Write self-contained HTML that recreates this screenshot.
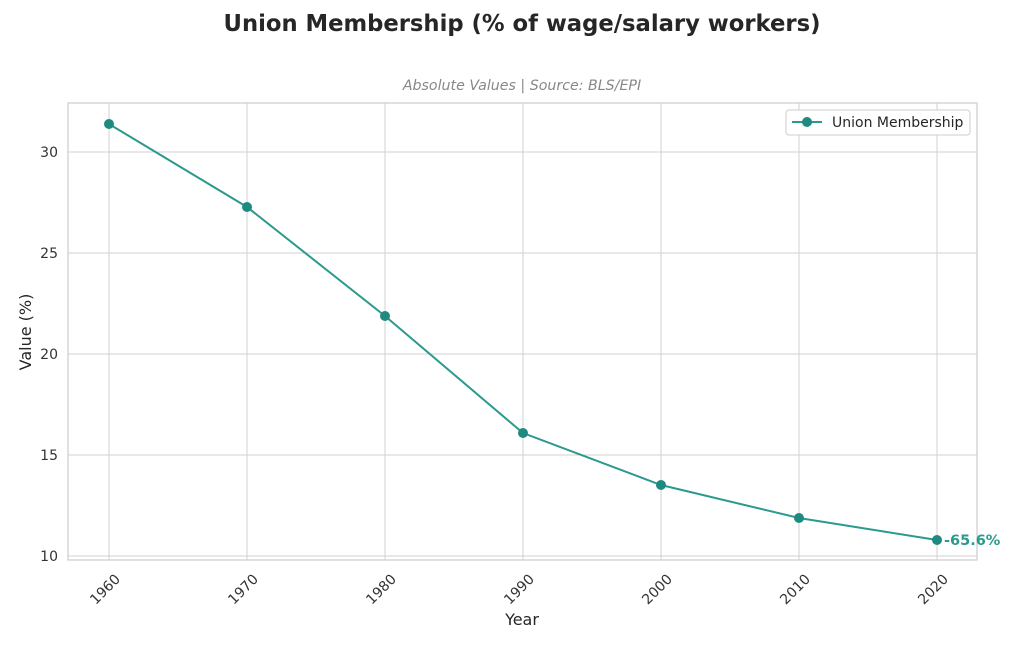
<!DOCTYPE html>
<html><head><meta charset="utf-8"><style>body{margin:0;background:#fff}</style></head>
<body>
<svg width="1024" height="666" xmlns="http://www.w3.org/2000/svg" font-family="DejaVu Sans, sans-serif">
<rect width="1024" height="666" fill="#fff"/>
<text x="522" y="31" text-anchor="middle" font-size="22.7" font-weight="bold" fill="#262626">Union Membership (% of wage/salary workers)</text>
<text x="522" y="90" text-anchor="middle" font-size="14.2" font-style="italic" fill="#888">Absolute Values | Source: BLS/EPI</text>
<g stroke="#d0d0d0" stroke-width="1">
<line x1="68" x2="977" y1="152" y2="152"/><line x1="68" x2="977" y1="253" y2="253"/><line x1="68" x2="977" y1="354" y2="354"/><line x1="68" x2="977" y1="455" y2="455"/><line x1="68" x2="977" y1="556" y2="556"/>
<line x1="109" x2="109" y1="103" y2="560"/><line x1="247" x2="247" y1="103" y2="560"/><line x1="385" x2="385" y1="103" y2="560"/><line x1="523" x2="523" y1="103" y2="560"/><line x1="661" x2="661" y1="103" y2="560"/><line x1="799" x2="799" y1="103" y2="560"/><line x1="937" x2="937" y1="103" y2="560"/>
</g>
<rect x="68" y="103" width="909" height="457" fill="none" stroke="#ccc" stroke-width="1.2"/>
<g font-size="14" fill="#333" text-anchor="end">
<text x="58" y="157">30</text><text x="58" y="258">25</text><text x="58" y="359">20</text><text x="58" y="460">15</text><text x="58" y="561">10</text>
</g>
<g font-size="14" fill="#333" text-anchor="end">
<text transform="translate(121,580) rotate(-45)">1960</text>
<text transform="translate(259,580) rotate(-45)">1970</text>
<text transform="translate(397,580) rotate(-45)">1980</text>
<text transform="translate(535,580) rotate(-45)">1990</text>
<text transform="translate(673,580) rotate(-45)">2000</text>
<text transform="translate(811,580) rotate(-45)">2010</text>
<text transform="translate(949,580) rotate(-45)">2020</text>
</g>
<text x="522" y="625" text-anchor="middle" font-size="16" fill="#262626">Year</text>
<text transform="translate(31,332) rotate(-90)" text-anchor="middle" font-size="16" fill="#262626">Value (%)</text>
<polyline fill="none" stroke="#2a9a8d" stroke-width="2" points="109,124 247,207 385,316 523,433 661,485 799,518 937,540"/>
<g fill="#1f8a80">
<circle cx="109" cy="124" r="5"/><circle cx="247" cy="207" r="5"/><circle cx="385" cy="316" r="5"/><circle cx="523" cy="433" r="5"/><circle cx="661" cy="485" r="5"/><circle cx="799" cy="518" r="5"/><circle cx="937" cy="540" r="5"/>
</g>
<text x="944" y="545" font-size="14.5" font-weight="bold" fill="#2a9a8d">-65.6%</text>
<rect x="786" y="110" width="184" height="25" rx="3" fill="#fff" stroke="#ccc"/>
<line x1="792" x2="822" y1="122" y2="122" stroke="#2a9a8d" stroke-width="2"/>
<circle cx="807" cy="122" r="5" fill="#1f8a80"/>
<text x="832" y="127" font-size="14" fill="#262626">Union Membership</text>
</svg>
</body></html>
